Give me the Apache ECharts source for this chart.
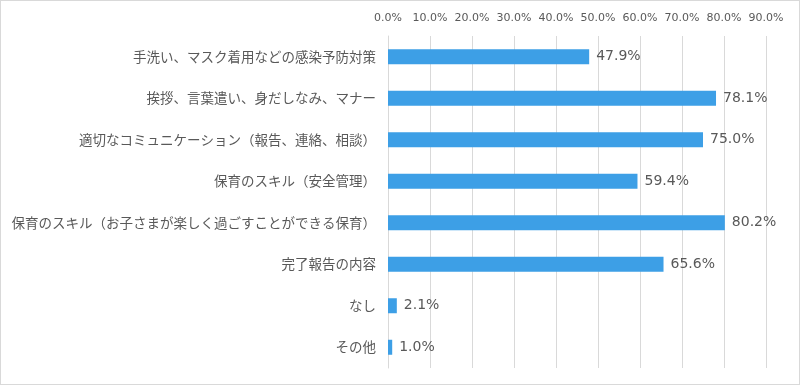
<!DOCTYPE html>
<html><head><meta charset="utf-8">
<script src="https://cdn.jsdelivr.net/npm/echarts@6/dist/echarts.min.js"></script>
<style>html,body{margin:0;padding:0;background:#fff}#c{width:800px;height:385px;box-sizing:border-box;border:1px solid #d9d9d9}</style>
</head><body><div id="c"></div>
<script>
const categories = [
  '手洗い、マスク着用などの感染予防対策',
  '挨拶、言葉遣い、身だしなみ、マナー',
  '適切なコミュニケーション（報告、連絡、相談）',
  '保育のスキル（安全管理）',
  '保育のスキル（お子さまが楽しく過ごすことができる保育）',
  '完了報告の内容',
  'なし',
  'その他'
];
const values = [47.9, 78.1, 75.0, 59.4, 80.2, 65.6, 2.1, 1.0];
const tickMin = 0, tickMax = 90, tickStep = 10;

const chart = echarts.init(document.getElementById('c'));
const font = '"Noto Sans CJK JP", "Noto Sans", sans-serif';
const numFont = '"DejaVu Sans", sans-serif';
chart.setOption({
  animation: false,
  grid: {left: 387, right: 33, top: 35, bottom: 16},
  xAxis: {
    type: 'value', position: 'top', min: tickMin, max: tickMax, interval: tickStep,
    axisLine: {show: false}, axisTick: {show: false},
    axisLabel: {formatter: v => v.toFixed(1) + '%', color: '#595959', fontSize: 11, fontFamily: numFont, margin: 12},
    splitLine: {show: true, lineStyle: {color: '#d9d9d9', width: 1}}
  },
  yAxis: {
    type: 'category', inverse: true, data: categories,
    axisLine: {show: true, lineStyle: {color: '#d9d9d9'}}, axisTick: {show: false},
    axisLabel: {color: '#595959', fontSize: 13.5, fontFamily: font, margin: 12}
  },
  series: [{
    type: 'bar', data: values, barWidth: 15,
    itemStyle: {color: '#3d9fe6'},
    label: {show: true, position: 'right', distance: 7, formatter: p => p.value.toFixed(1) + '%', color: '#595959', fontSize: 14, fontFamily: numFont}
  }]
});
</script></body></html>
